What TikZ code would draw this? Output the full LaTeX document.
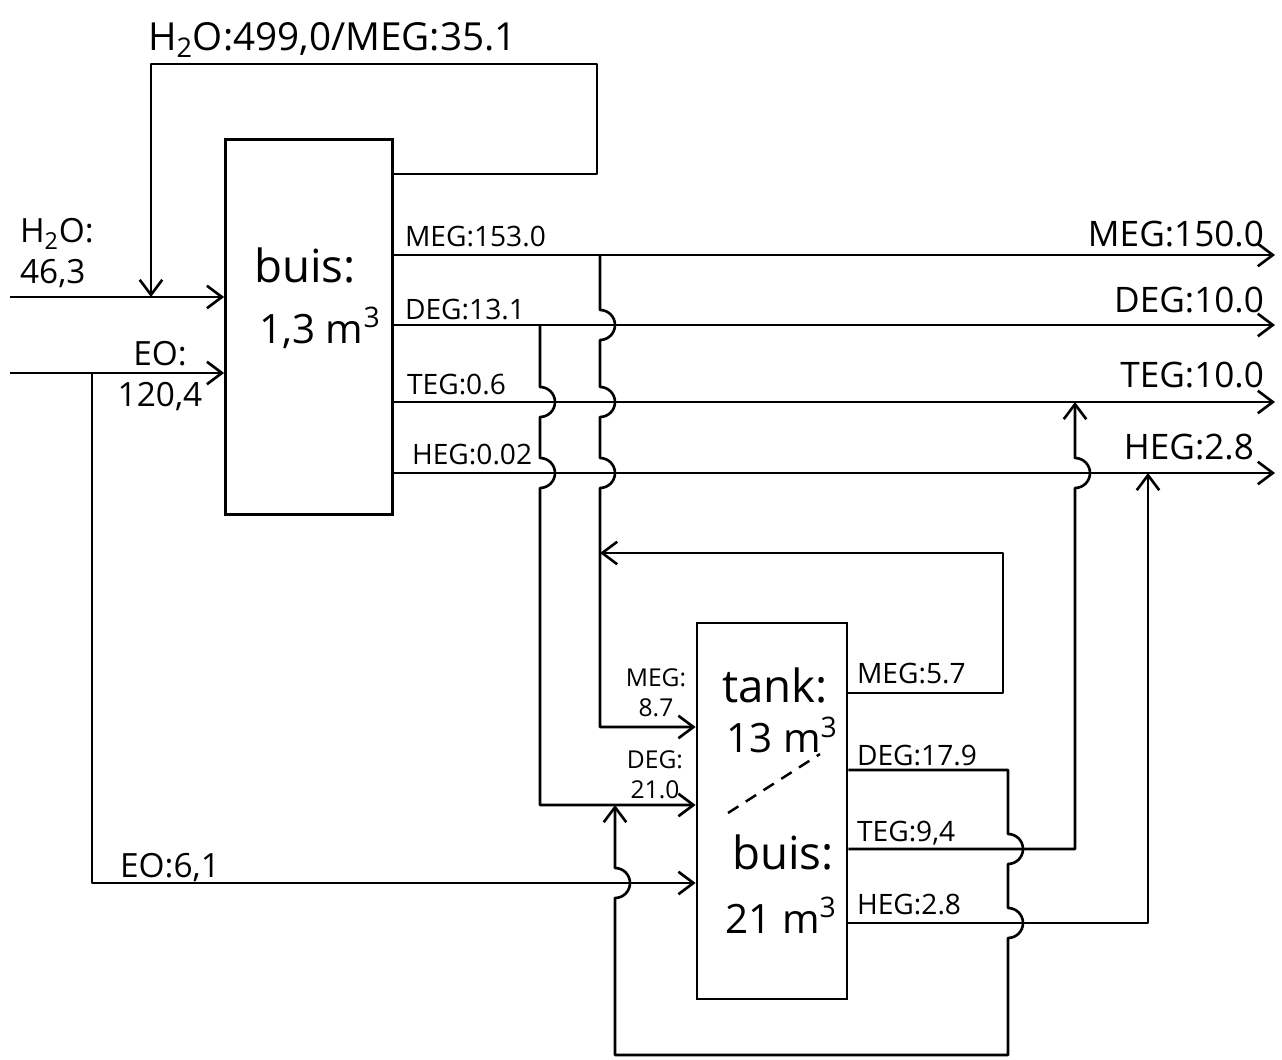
\documentclass[tikz,border=0pt]{standalone}
\usepackage{fontspec}
\setmainfont{Open Sans}
\usetikzlibrary{arrows.meta}

\tikzset{
  stroom/.style={line width=1.5pt, line join=round},
  pijl/.style={stroom, -{Straight Barb[length=3mm,width=4.5mm]}},
  blok/.style={draw, line width=1.6pt, inner sep=0pt},
  tekst/.style={inner sep=1pt, font=\fontsize{16}{19}\selectfont},
  groot/.style={inner sep=1pt, font=\fontsize{20}{24}\selectfont},
  invoer/.style={inner sep=1pt, align=center, font=\fontsize{19}{23}\selectfont},
  blokletter/.style={inner sep=0pt, font=\fontsize{26}{30}\selectfont},
  volume/.style={inner sep=0pt, font=\fontsize{23}{27}\selectfont},
  klein/.style={inner sep=0pt, align=center, font=\fontsize{14}{17}\selectfont},
}

\begin{document}
\begin{tikzpicture}[x=0.02cm, y=-0.02cm]
\useasboundingbox (0,0) rectangle (1282,1060);
% blokken
\node[blok, minimum width=3.34cm, minimum height=7.5cm] (buis1) at (309,327) {};
\node[blok, minimum width=3cm, minimum height=7.52cm] (tank) at (772,811) {};
\node[blokletter] (b1a) at (305,265) {buis:};
\node[volume] (b1b) at (320,328) {1,3 m\textsuperscript{3}};
\node[blokletter] (tka) at (775,685) {tank:};
\node[volume] (tkb) at (782,735) {13 m\textsuperscript{3}};
\node[blokletter] (tkc) at (783,852) {buis:};
\node[volume] (tkd) at (781,915) {21 m\textsuperscript{3}};
\draw[line width=1.4pt, dash pattern=on 7pt off 5pt] (728,813) -- (820,754);

% voeding
\coordinate (h2oin) at (10,297);
\coordinate (eoin) at (10,373);
\draw[pijl] (h2oin) -- (buis1.west |- h2oin);
\draw[pijl] (eoin) -- (buis1.west |- eoin);
\node[invoer, align=left, anchor=west] (h2olbl) at (18,253) {H\textsubscript{2}O:\\46,3};
\node[invoer] (eolbl) at (160,376) {EO:\\120,4};

% terugvoer
\coordinate (rc1) at (597,174);
\coordinate (rc2) at (597,64);
\coordinate (rc3) at (151,64);
\draw[pijl] (buis1.east |- rc1) -- (rc1) -- (rc2) -- (rc3) -- (rc3 |- h2oin);
\node[groot, font=\fontsize{22}{26}\selectfont, anchor=west] (rclbl) at (146,40) {H\textsubscript{2}O:499,0/MEG:35.1};

% producten
\coordinate (megout) at (1275,255);
\coordinate (degout) at (1275,325);
\coordinate (tegout) at (1275,402);
\coordinate (hegout) at (1275,473);
\draw[pijl] (buis1.east |- megout) -- (megout);
\draw[pijl] (buis1.east |- degout) -- (degout);
\draw[pijl] (buis1.east |- tegout) -- (tegout);
\draw[pijl] (buis1.east |- hegout) -- (hegout);
\node[tekst, anchor=west] (m1) at (403,237) {MEG:153.0};
\node[tekst, anchor=west] (d1) at (403,310) {DEG:13.1};
\node[tekst, anchor=west] (t1) at (405,385) {TEG:0.6};
\node[tekst, anchor=west] (h1) at (410,455) {HEG:0.02};
\node[groot, anchor=east] (m2) at (1266,234) {MEG:150.0};
\node[groot, anchor=east] (d2) at (1266,300) {DEG:10.0};
\node[groot, anchor=east] (t2) at (1266,375) {TEG:10.0};
\node[groot, anchor=east] (h2) at (1256,447) {HEG:2.8};

% aftakkingen naar de tank
\coordinate (megsplit) at (600,255);
\coordinate (megin) at (600,727);
\coordinate (degsplit) at (540,325);
\coordinate (degin) at (540,805);
\coordinate (eosplit) at (92,373);
\coordinate (eoin2) at (92,883);
\draw[pijl] (megsplit) -- (600,310) arc[start angle=90, end angle=-90, radius=0.3cm]
  -- (600,387) arc[start angle=90, end angle=-90, radius=0.3cm]
  -- (600,458) arc[start angle=90, end angle=-90, radius=0.3cm]
  -- (megin) -- (tank.west |- megin);
\draw[pijl] (degsplit) -- (540,387) arc[start angle=90, end angle=-90, radius=0.3cm]
  -- (540,458) arc[start angle=90, end angle=-90, radius=0.3cm]
  -- (degin) -- (tank.west |- degin);
\draw[pijl] (eosplit) -- (eoin2) -- (tank.west |- eoin2);
\node[klein] (m3) at (656,693) {MEG:\\8.7};
\node[klein] (d3) at (655,775) {DEG:\\21.0};
\node[invoer, anchor=west] (eo2) at (118,868) {EO:6,1};

% uit de tank
\coordinate (r57a) at (1003,693);
\coordinate (r57b) at (1003,553);
\coordinate (r179a) at (1008,770);
\coordinate (r179b) at (1008,1055);
\coordinate (r179c) at (615,1055);
\coordinate (r94) at (1075,849);
\coordinate (r28) at (1148,923);
\draw[pijl] (tank.east |- r57a) -- (r57a) -- (r57b) -- (megsplit |- r57b);
\draw[pijl] (tank.east |- r179a) -- (r179a)
  -- (1008,834) arc[start angle=90, end angle=-90, radius=0.3cm]
  -- (1008,908) arc[start angle=90, end angle=-90, radius=0.3cm]
  -- (r179b) -- (r179c)
  -- (615,898) arc[start angle=-90, end angle=90, radius=0.3cm]
  -- (r179c |- degin);
\draw[pijl] (tank.east |- r94) -- (r94)
  -- (1075,488) arc[start angle=-90, end angle=90, radius=0.3cm]
  -- (r94 |- tegout);
\draw[pijl] (tank.east |- r28) -- (r28) -- (r28 |- hegout);
\node[tekst, anchor=west] (m4) at (855,674) {MEG:5.7};
\node[tekst, anchor=west] (d4) at (855,756) {DEG:17.9};
\node[tekst, anchor=west] (t4) at (855,833) {TEG:9,4};
\node[tekst, anchor=west] (h4) at (855,905) {HEG:2.8};
\end{tikzpicture}
\end{document}
